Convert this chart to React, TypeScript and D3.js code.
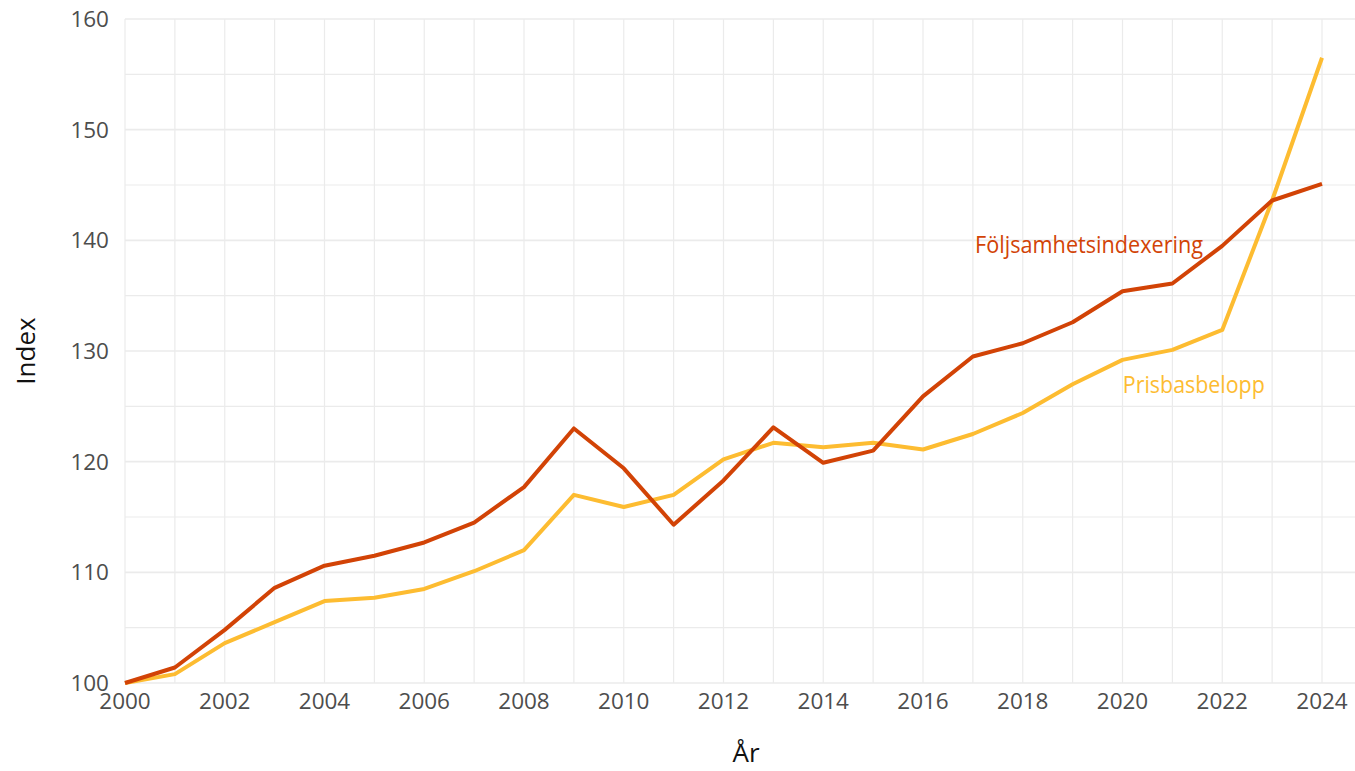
import React from 'react';
import * as d3 from 'd3';

const years = d3.range(2000, 2025);
const foljsamhet = [100, 101.4, 104.8, 108.6, 110.6, 111.5, 112.7, 114.5, 117.7, 123.0, 119.4, 114.3, 118.3, 123.1, 119.9, 121.0, 125.9, 129.5, 130.7, 132.6, 135.4, 136.1, 139.5, 143.6, 145.1];
const prisbas = [100, 100.8, 103.6, 105.5, 107.4, 107.7, 108.5, 110.1, 112.0, 117.0, 115.9, 117.0, 120.2, 121.7, 121.3, 121.7, 121.1, 122.5, 124.4, 127.0, 129.2, 130.1, 131.9, 143.6, 156.5];
const yTicks = [100, 110, 120, 130, 140, 150, 160];
const xTicks = d3.range(2000, 2025, 2);

const W = 1355;
const H = 771;
const font = "'Open Sans', sans-serif";
const red = '#D24306';
const yellow = '#FDBC31';

const App = () => {
  const x = d3.scaleLinear().domain([2000, 2024]).range([125, 1322]);
  const y = d3.scaleLinear().domain([100, 160]).range([683, 19]);
  const left = 125, right = 1355, top = 19, bottom = 683;

  const line = d3.line<number>()
    .x((_, i) => x(years[i]))
    .y(d => y(d));

  return (
    <svg width={W} height={H} style={{ position: 'absolute', left: 0, top: 0 }}>
      <rect width={W} height={H} fill="white" />
      {/* grid, one line per year and per 5 index points */}
      {years.map(yr => (
        <line key={'vx' + yr} x1={x(yr)} x2={x(yr)} y1={top} y2={bottom} stroke="#EBEBEB" strokeWidth={1.2} />
      ))}
      {d3.range(100, 161, 5).map(v => (
        <line key={'hy' + v} x1={left} x2={right} y1={y(v)} y2={y(v)} stroke="#EBEBEB" strokeWidth={v % 10 === 0 ? 1.6 : 1.2} />
      ))}
      <path d={line(prisbas) || ''} fill="none" stroke={yellow} strokeWidth={4} strokeLinejoin="round" />
      <path d={line(foljsamhet) || ''} fill="none" stroke={red} strokeWidth={4} strokeLinejoin="round" />
      {yTicks.map(v => (
        <text key={'yt' + v} x={109} y={y(v)} dy="0.36em" textAnchor="end" fontFamily={font} fontSize={22.5} fill="#4D4D4D">{v}</text>
      ))}
      {xTicks.map(v => (
        <text key={'xt' + v} x={x(v)} y={709} textAnchor="middle" fontFamily={font} fontSize={22.5} fill="#4D4D4D">{v}</text>
      ))}
      <text x={746} y={762} textAnchor="middle" fontFamily={font} fontSize={26} fill="#111">År</text>
      <text transform={`translate(35, 351) rotate(-90)`} textAnchor="middle" fontFamily={font} fontSize={26} fill="#111">Index</text>
      <text x={x(2019.33)} y={y(138.9)} textAnchor="middle" fontFamily={font} fontSize={23} textLength={228} lengthAdjust="spacingAndGlyphs" fill={red}>Följsamhetsindexering</text>
      <text x={x(2021.43)} y={y(126.2)} textAnchor="middle" fontFamily={font} fontSize={23} textLength={142} lengthAdjust="spacingAndGlyphs" fill={yellow}>Prisbasbelopp</text>
    </svg>
  );
};

export default App;
